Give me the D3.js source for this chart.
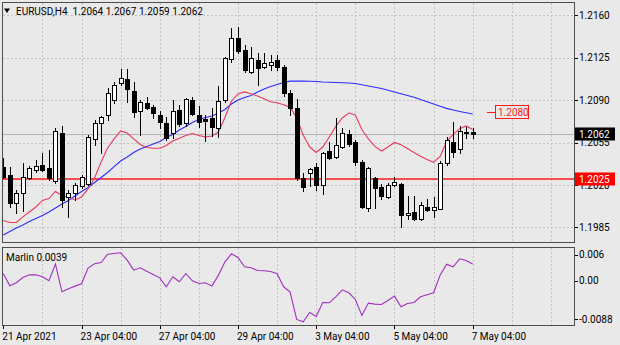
<!DOCTYPE html>
<html>
<head>
<meta charset="utf-8">
<script src="https://cdn.jsdelivr.net/npm/d3@7"></script>
<style>
  html, body { margin: 0; padding: 0; background: #e9e9e9; }
  svg { display: block; }
  text { font-family: Roboto, "Liberation Sans", sans-serif; font-size: 10px; white-space: pre; }
</style>
</head>
<body>
<svg id="chart" width="620" height="345"></svg>
<script>
// EURUSD H4 bars, 21 Apr 2021 04:00 .. 7 May 2021 04:00 (73 bars)
const symbol = "EURUSD";
const period = "H4";

const opens = [
  1.20347,1.20283,1.20050,1.20132,1.20256,1.20325,1.20366,1.20339,1.20236,1.20633,
  1.20099,1.20137,1.20193,1.20209,1.20581,1.20715,1.20779,1.20902,1.21040,1.21073,
  1.20979,1.20814,1.20880,1.20842,1.20779,1.20710,1.20628,1.20820,1.20710,1.20902,
  1.20779,1.20743,1.20751,1.20669,1.20902,1.21238,1.21412,1.21315,1.21136,1.21233,
  1.21177,1.21191,1.21233,1.21172,1.20963,1.20834,1.20256,1.20302,1.20347,1.20201,
  1.20484,1.20429,1.20514,1.20618,1.20558,1.20391,1.20008,1.20256,1.20184,1.20099,
  1.20201,1.20209,1.19949,1.19978,1.19918,1.20019,1.19992,1.20003,1.20380,1.20558,
  1.20496,1.20628,1.2064
];
const highs = [
  1.20421,1.20347,1.20159,1.20385,1.20358,1.20407,1.20462,1.20490,1.20669,1.20688,
  1.20159,1.20215,1.20283,1.20614,1.20737,1.20770,1.20999,1.21054,1.21156,1.21156,
  1.21054,1.20902,1.20930,1.20861,1.20814,1.20765,1.20902,1.20861,1.20917,1.20925,
  1.20853,1.20779,1.20834,1.21018,1.21255,1.21494,1.21503,1.21357,1.21342,1.21288,
  1.21288,1.21274,1.21274,1.21191,1.20985,1.20908,1.20297,1.20339,1.20380,1.20476,
  1.20552,1.20751,1.20669,1.20652,1.20572,1.20407,1.20352,1.20269,1.20209,1.20217,
  1.20264,1.20220,1.20110,1.20110,1.20063,1.20085,1.20102,1.20395,1.20599,1.20717,
  1.20688,1.20682,1.2067
];
const lows = [
  1.20256,1.20022,1.19972,1.19989,1.20248,1.20311,1.20316,1.20242,1.20220,1.20022,
  1.19934,1.20077,1.20174,1.20201,1.20531,1.20467,1.20737,1.20880,1.21026,1.20888,
  1.20765,1.20614,1.20826,1.20751,1.20669,1.20572,1.20586,1.20688,1.20688,1.20779,
  1.20682,1.20566,1.20605,1.20599,1.20888,1.21219,1.21288,1.21136,1.21123,1.21026,
  1.21164,1.21150,1.21150,1.20935,1.20779,1.20242,1.20154,1.20193,1.20159,1.20126,
  1.20413,1.20421,1.20504,1.20523,1.20366,1.20008,1.19989,1.20008,1.20083,1.20091,
  1.20193,1.19857,1.19916,1.19912,1.19912,1.19989,1.19933,1.19999,1.20366,1.20428,
  1.20467,1.20589,1.2059
];
const closes = [
  1.20264,1.20050,1.20137,1.20264,1.20344,1.20360,1.20325,1.20256,1.20649,1.20077,
  1.20137,1.20201,1.20264,1.20595,1.20715,1.20760,1.20958,1.21026,1.21082,1.20991,
  1.20806,1.20888,1.20834,1.20793,1.20718,1.20586,1.20814,1.20704,1.20911,1.20787,
  1.20723,1.20732,1.20682,1.20897,1.21247,1.21412,1.21309,1.21150,1.21249,1.21164,
  1.21205,1.21219,1.21172,1.20958,1.20834,1.20256,1.20182,1.20330,1.20201,1.20467,
  1.20421,1.20531,1.20633,1.20535,1.20393,1.20022,1.20339,1.20174,1.20106,1.20197,
  1.20226,1.19953,1.19967,1.19924,1.20032,1.19997,1.20019,1.20385,1.20572,1.20476,
  1.20644,1.20641,1.2062
];

// Fast (red) and slow (blue) moving averages
const maFast = [
  1.19908,1.19891,1.19891,1.19937,1.19978,1.20019,1.20073,1.20089,1.20147,1.20114,
  1.20098,1.20077,1.20102,1.20168,1.20259,1.20391,1.20506,1.20581,1.20647,1.20630,
  1.20581,1.20535,1.20510,1.20504,1.20504,1.20527,1.20564,1.20586,1.20609,1.20626,
  1.20609,1.20597,1.20605,1.20638,1.20758,1.20894,1.20952,1.20969,1.20954,1.20935,
  1.20913,1.20888,1.20879,1.20863,1.20841,1.20756,1.20614,1.20514,1.20469,1.20514,
  1.20597,1.20684,1.20754,1.20795,1.20779,1.20659,1.20581,1.20519,1.20481,1.20514,
  1.20552,1.20533,1.20502,1.20469,1.20438,1.20411,1.20388,1.20436,1.20559,1.20618,
  1.20666,1.20688,1.20659
];
const maSlow = [
  1.19788,1.19817,1.19846,1.19871,1.19899,1.19924,1.19949,1.19978,1.20011,1.20044,
  1.20073,1.20110,1.20147,1.20180,1.20221,1.20263,1.20304,1.20353,1.20399,1.20432,
  1.20469,1.20498,1.20519,1.20539,1.20560,1.20593,1.20618,1.20655,1.20684,1.20717,
  1.20741,1.20758,1.20770,1.20795,1.20824,1.20869,1.20902,1.20923,1.20940,1.20969,
  1.20993,1.21014,1.21030,1.21047,1.21058,1.21059,1.21058,1.21057,1.21055,1.21051,
  1.21049,1.21047,1.21045,1.21043,1.21039,1.21028,1.21018,1.21007,1.20997,1.20982,
  1.20968,1.20954,1.20940,1.20925,1.20907,1.20888,1.20869,1.20850,1.20833,1.20820,
  1.20808,1.20797,1.20787
];

// Marlin oscillator (sub-window)
const marlin = [
  0.00169,-0.00115,-0.00046,0.00077,0.00138,0.00138,0.00092,0.00000,0.00385,-0.00254,
  -0.00185,-0.00123,-0.00069,0.00292,0.00392,0.00423,0.00615,0.00631,0.00646,0.00477,
  0.00246,0.00300,0.00223,0.00146,0.00069,-0.00138,0.00092,-0.00023,0.00169,0.00000,
  -0.00062,-0.00046,-0.00123,0.00131,0.00438,0.00623,0.00538,0.00323,0.00300,0.00238,
  0.00231,0.00215,0.00162,-0.00138,-0.00262,-0.00892,-0.00946,-0.00731,-0.00823,-0.00500,
  -0.00508,-0.00369,-0.00208,-0.00277,-0.00431,-0.00800,-0.00515,-0.00538,-0.00546,-0.00454,
  -0.00354,-0.00600,-0.00523,-0.00500,-0.00369,-0.00323,-0.00277,0.00131,0.00385,0.00323,
  0.00508,0.00470,0.0039
];

// Axis ticks and labels
const priceTicks = [1.2160, 1.2125, 1.2090, 1.2055, 1.2020, 1.1985];
const marlinTicks = [0.006, 0.00, -0.0088];
const marlinTickLabels = ["0.006", "0.00", "-0.0088"];
const timeTickBars = [0, 12, 24, 36, 48, 60, 72];
const timeTickLabels = ["21 Apr 2021", "23 Apr 04:00", "27 Apr 04:00", "29 Apr 04:00",
                        "3 May 04:00", "5 May 04:00", "7 May 04:00"];

// Horizontal levels
const supportLevel = 1.2025;
const targetLevel = 1.2080;

// ---------------------------------------------------------------
const svg = d3.select("#chart");
const BG = "#e9e9e9";
const FRAME = "#4d4d4d";
const GRID = "#c3c3c3";
const LEVEL_RED = "#ff1a1a";

const main = { left: 2.5, right: 574.5, top: 2.5, bottom: 242.5 };
const sub = { top: 247.5, bottom: 325.5 };
const lastBar = closes.length - 1;

const x = d3.scaleLinear().domain([0, lastBar]).range([3.3, 472.7]);
const y = d3.scaleLinear().domain([1.19726, 1.21707]).range([main.bottom, main.top]);
const yi = d3.scaleLinear().domain([-0.01032, 0.00769]).range([sub.bottom, sub.top]);
const snap = v => Math.round(v) + 0.5;

svg.append("rect").attr("width", 620).attr("height", 345).attr("fill", BG);

const defs = svg.append("defs");
defs.append("clipPath").attr("id", "clipMain").append("rect")
  .attr("x", main.left).attr("y", main.top)
  .attr("width", main.right - main.left).attr("height", main.bottom - main.top);
defs.append("clipPath").attr("id", "clipSub").append("rect")
  .attr("x", main.left).attr("y", sub.top)
  .attr("width", main.right - main.left).attr("height", sub.bottom - sub.top);

// grid
const gridBars = d3.range(6, 200, 6).filter(i => x(i) < main.right - 2);
const grid = svg.append("g").attr("stroke", GRID).attr("stroke-dasharray", "2,2")
  .attr("shape-rendering", "crispEdges");
grid.selectAll(".hg").data(priceTicks).join("line")
  .attr("x1", main.left).attr("x2", main.right)
  .attr("y1", d => snap(y(d))).attr("y2", d => snap(y(d)));
grid.selectAll(".vg").data(gridBars).join("line")
  .attr("x1", d => snap(x(d))).attr("x2", d => snap(x(d)))
  .attr("y1", main.top).attr("y2", main.bottom);
grid.selectAll(".vgs").data(gridBars).join("line")
  .attr("x1", d => snap(x(d))).attr("x2", d => snap(x(d)))
  .attr("y1", sub.top).attr("y2", sub.bottom);

// price levels: current bid (grey) and support (red)
const lv = svg.append("g").attr("clip-path", "url(#clipMain)");
lv.append("line").attr("x1", main.left).attr("x2", main.right)
  .attr("y1", snap(y(closes[lastBar]))).attr("y2", snap(y(closes[lastBar])))
  .attr("stroke", "#b4b4b4").attr("shape-rendering", "crispEdges");
lv.append("line").attr("x1", main.left).attr("x2", main.right)
  .attr("y1", y(supportLevel)).attr("y2", y(supportLevel))
  .attr("stroke", LEVEL_RED).attr("stroke-width", 1.3);

// moving averages
const line = (arr, sc) => d3.line().x((d, i) => x(i)).y(d => sc(d))(arr);
const ma = svg.append("g").attr("clip-path", "url(#clipMain)").attr("fill", "none");
ma.append("path").attr("d", line(maSlow, y)).attr("stroke", "#2d2dff").attr("stroke-width", 1.1);
ma.append("path").attr("d", line(maFast, y)).attr("stroke", "#e83a5c").attr("stroke-width", 1.1);

// candles
const bars = d3.range(closes.length);
const cg = svg.append("g").attr("clip-path", "url(#clipMain)").attr("shape-rendering", "crispEdges");
cg.selectAll(".wick").data(bars).join("line")
  .attr("x1", i => Math.round(x(i)) + 0.5).attr("x2", i => Math.round(x(i)) + 0.5)
  .attr("y1", i => Math.round(y(highs[i]))).attr("y2", i => Math.round(y(lows[i])) + 1)
  .attr("stroke", "#000");
cg.selectAll(".body").data(bars).join("rect")
  .attr("x", i => Math.round(x(i)) - 1.5)
  .attr("y", i => Math.round(y(Math.max(opens[i], closes[i]))) + 0.5)
  .attr("width", 4)
  .attr("height", i => Math.max(1, Math.round(y(Math.min(opens[i], closes[i]))) - Math.round(y(Math.max(opens[i], closes[i])))))
  .attr("fill", i => closes[i] >= opens[i] ? "#fff" : "#000")
  .attr("stroke", "#000");

// Marlin line
svg.append("path").attr("clip-path", "url(#clipSub)")
  .attr("d", line(marlin, yi)).attr("fill", "none")
  .attr("stroke", "#a22fc0").attr("stroke-width", 1.1);

// frames
svg.append("rect").attr("x", main.left).attr("y", main.top)
  .attr("width", main.right - main.left).attr("height", main.bottom - main.top)
  .attr("fill", "none").attr("stroke", FRAME).attr("shape-rendering", "crispEdges");
svg.append("rect").attr("x", main.left).attr("y", sub.top)
  .attr("width", main.right - main.left).attr("height", sub.bottom - sub.top)
  .attr("fill", "none").attr("stroke", FRAME).attr("shape-rendering", "crispEdges");

// price axis
const pa = svg.append("g");
pa.selectAll("line").data(priceTicks).join("line")
  .attr("x1", main.right).attr("x2", main.right + 3)
  .attr("y1", d => snap(y(d))).attr("y2", d => snap(y(d)))
  .attr("stroke", "#000").attr("shape-rendering", "crispEdges");
pa.selectAll("text").data(priceTicks).join("text")
  .attr("x", 579).attr("y", d => y(d) + 3.6)
  .attr("fill", "#000").text(d => d.toFixed(4));

// sub-window axis
const sa = svg.append("g");
sa.selectAll("line").data(marlinTicks).join("line")
  .attr("x1", main.right).attr("x2", main.right + 3)
  .attr("y1", d => snap(yi(d))).attr("y2", d => snap(yi(d)))
  .attr("stroke", "#000").attr("shape-rendering", "crispEdges");
sa.selectAll("text").data(marlinTicks).join("text")
  .attr("x", 579).attr("y", d => yi(d) + 3.6)
  .attr("fill", "#000").text((d, i) => marlinTickLabels[i]);

// time axis
const ta = svg.append("g");
ta.selectAll("line").data(timeTickBars).join("line")
  .attr("x1", d => snap(x(d))).attr("x2", d => snap(x(d)))
  .attr("y1", sub.bottom).attr("y2", sub.bottom + 3)
  .attr("stroke", "#000").attr("shape-rendering", "crispEdges");
ta.selectAll("text").data(timeTickBars).join("text")
  .attr("x", d => x(d) - 1).attr("y", 340)
  .attr("fill", "#000").text((d, i) => timeTickLabels[i]);

// current price box (sits over the 1.2055 label, as on the terminal)
const yc = y(closes[lastBar]);
svg.append("rect").attr("x", 575).attr("y", Math.round(yc) - 6.5).attr("width", 40).attr("height", 13)
  .attr("fill", "#000");
svg.append("text").attr("x", 579).attr("y", yc + 3.6).attr("fill", "#fff")
  .text(closes[lastBar].toFixed(4));

// support level box (sits over the 1.2020 label)
const ys = y(supportLevel);
svg.append("rect").attr("x", 575).attr("y", Math.round(ys) - 6.5).attr("width", 40).attr("height", 13)
  .attr("fill", "#ff0000");
svg.append("text").attr("x", 579).attr("y", ys + 3.6).attr("fill", "#fff")
  .text(supportLevel.toFixed(4));

// target level tag
const yt = y(targetLevel);
svg.append("line").attr("x1", 487).attr("x2", 495.5)
  .attr("y1", snap(yt)).attr("y2", snap(yt))
  .attr("stroke", LEVEL_RED).attr("stroke-width", 1.2).attr("shape-rendering", "crispEdges");
svg.append("rect").attr("x", 495.5).attr("y", Math.round(yt) - 6.5).attr("width", 33).attr("height", 13)
  .attr("fill", BG).attr("stroke", LEVEL_RED).attr("shape-rendering", "crispEdges");
svg.append("text").attr("x", 498).attr("y", yt + 3.6).attr("fill", LEVEL_RED)
  .text(targetLevel.toFixed(4));

// title
svg.append("path").attr("d", "M4,8.5 L10,8.5 L7,13 Z").attr("fill", "#000");
const ohlc = [opens, highs, lows, closes].map(a => a[lastBar].toFixed(4)).join(" ");
svg.append("text").attr("x", 16).attr("y", 14.5).attr("fill", "#000")
  .text(`${symbol},${period}  ${ohlc}`);

// sub-window caption
svg.append("text").attr("x", 6).attr("y", 260.5).attr("fill", "#000")
  .text(`Marlin ${marlin[lastBar].toFixed(4)}`);
</script>
</body>
</html>
